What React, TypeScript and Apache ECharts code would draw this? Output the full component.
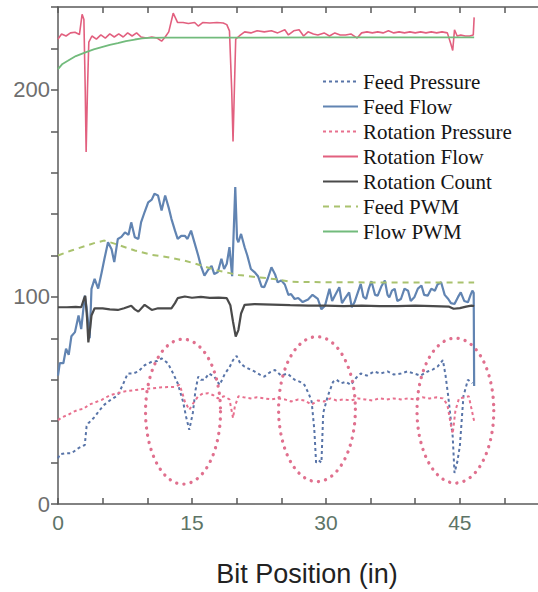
import React, { useEffect, useRef } from "react";
import * as echarts from "echarts";

const seriesNames = [
  "Feed Pressure",
  "Feed Flow",
  "Rotation Pressure",
  "Rotation Flow",
  "Rotation Count",
  "Feed PWM",
  "Flow PWM",
];

const xTickValues = [0, 5, 10, 15, 20, 25, 30, 35, 40, 45, 50];
const xLabelValues = [0, 15, 30, 45];
const yLabelValues = [0, 100, 200];

const feedPressure: number[][] = [
  [0, 22], [0.2, 24], [0.8, 24.5], [1.5, 24.5], [2.3, 27], [3.0, 28.5], [3.2, 37.5], [3.4, 39],
  [4.1, 42], [4.6, 45], [5.2, 48], [5.8, 50], [6.7, 52.5], [7.3, 58], [7.8, 63], [8.4, 63],
  [9.0, 64], [9.7, 67], [10.5, 68.7], [11.1, 69], [11.6, 70.3], [12.3, 68], [12.9, 63], [13.4, 58.3],
  [14.0, 49.5], [14.35, 42], [14.7, 35.8], [15.1, 44], [15.4, 55], [15.7, 61.5], [16.0, 60], [16.4, 60],
  [16.9, 63], [17.5, 61.5], [18.1, 57.5], [18.7, 63], [19.2, 66], [19.6, 69.5], [20.0, 71.5], [20.4, 68],
  [20.9, 66.3], [21.5, 65], [22.0, 64], [22.6, 62.5], [23.1, 61.5], [23.7, 63.5], [24.3, 64.7], [25.0, 62],
  [25.7, 63], [26.5, 60], [27.1, 59], [27.6, 57.5], [28.1, 53], [28.4, 49.5], [28.7, 36], [28.9, 20],
  [29.2, 21], [29.5, 20], [29.7, 44], [30.2, 52], [30.8, 59], [31.2, 60], [31.7, 58.3], [32.2, 59],
  [32.8, 57.5], [33.4, 61], [33.9, 63], [34.6, 62], [35.4, 64], [36.1, 63], [36.9, 64], [37.6, 62.5],
  [38.4, 63], [39.1, 64], [39.9, 63], [40.6, 62], [41.4, 64], [42.0, 65], [42.5, 66.3], [43.1, 69.5],
  [43.4, 62], [43.7, 52], [44.0, 40], [44.2, 32.5], [44.4, 15], [44.7, 20], [45.0, 28], [45.2, 40],
  [45.4, 52], [45.9, 60], [46.4, 58.3],
];

const feedFlow: number[][] = [
  [0, 62], [0.2, 68], [0.6, 68], [0.9, 75], [1.2, 72], [1.5, 81], [1.9, 83], [2.3, 91],
  [2.6, 84.5], [3.0, 100.6], [3.2, 95], [3.4, 86], [3.55, 80], [3.75, 103.9], [4.1, 108.7], [4.5, 104],
  [4.9, 112], [5.2, 118.4], [5.6, 126.4], [6.0, 123], [6.3, 116.8], [6.7, 128], [7.1, 129], [7.5, 131.2],
  [7.9, 130], [8.2, 136], [8.6, 128.8], [9.0, 128], [9.3, 136], [9.7, 141], [10.1, 145.7], [10.5, 147],
  [10.8, 149.8], [11.2, 149], [11.6, 141.7], [12.0, 149], [12.4, 143], [12.7, 137.7], [13.1, 132], [13.4, 128],
  [13.8, 129.5], [14.2, 129.5], [14.5, 128], [14.9, 132], [15.3, 126], [15.7, 120], [16.0, 115], [16.4, 110.3],
  [16.8, 113], [17.2, 115], [17.5, 111], [17.9, 112], [18.3, 118.4], [18.6, 113.5], [18.9, 116], [19.2, 124],
  [19.5, 110], [19.85, 153], [20.05, 128], [20.2, 126.4], [20.5, 130.4], [20.9, 124], [21.2, 120], [21.6, 113.5],
  [22.0, 112], [22.4, 110], [22.8, 105], [23.1, 104.7], [23.5, 109], [23.9, 114.3], [24.3, 111], [24.6, 107],
  [25.0, 108], [25.4, 106], [25.8, 101], [26.1, 101.4], [26.5, 99], [26.9, 99.5], [27.4, 97.5], [28.0, 98.8],
  [28.5, 101], [29.1, 99], [29.5, 94], [29.9, 95.8], [30.4, 103.9], [30.7, 98], [31.0, 100.6], [31.5, 104.7],
  [31.8, 97], [32.1, 99], [32.6, 102.2], [32.9, 95], [33.2, 97.4], [33.9, 106.3], [34.2, 100], [34.5, 99],
  [34.8, 104], [35.1, 107.6], [35.5, 101], [35.8, 100.6], [36.2, 105], [36.6, 107.9], [36.9, 101], [37.1, 99.8],
  [37.4, 103], [37.7, 103.9], [38.0, 98], [38.4, 99], [38.8, 104], [39.2, 103], [39.5, 98], [39.9, 99.8],
  [40.3, 104], [40.7, 105.5], [41.0, 101], [41.4, 100.6], [41.8, 104], [42.2, 103], [42.5, 106], [42.9, 107.1],
  [43.3, 101], [43.7, 99], [44.0, 97], [44.4, 96.6], [44.8, 100], [45.1, 102.2], [45.5, 98], [45.9, 97.4],
  [46.2, 101], [46.4, 103], [46.55, 102], [46.6, 57],
];

const rotationPressure: number[][] = [
  [0, 40.5], [0.5, 42], [1.1, 43], [1.7, 44.5], [2.3, 45.5], [2.9, 46], [3.4, 47.8], [4.1, 49],
  [4.9, 50.3], [5.8, 52.5], [6.7, 53.5], [7.6, 54.5], [8.6, 55], [9.5, 55.5], [10.5, 55.8], [11.4, 56.3],
  [12.3, 56.5], [13.0, 56.5], [13.6, 57.5], [13.9, 54], [14.2, 49.5], [14.7, 45.5], [15.2, 49], [15.7, 52],
  [16.2, 53.3], [16.8, 53.5], [17.4, 52.5], [17.9, 51], [18.6, 52], [19.2, 50.5], [19.4, 46], [19.6, 41.5],
  [19.8, 47], [20.2, 52], [20.8, 51.5], [21.6, 51], [22.3, 51.5], [23.1, 51], [23.9, 50.5], [24.6, 51],
  [25.4, 50.5], [26.1, 49.5], [26.9, 50.5], [27.6, 50], [28.4, 48], [29.1, 50], [29.8, 49.5], [30.5, 51],
  [31.2, 50], [32.0, 50.5], [32.8, 50], [33.6, 51], [34.4, 50.5], [35.2, 50], [36.0, 51], [36.8, 50.5],
  [37.6, 51], [38.4, 50.5], [39.2, 51], [40.0, 50.5], [40.8, 51.5], [41.6, 51], [42.4, 51.5], [43.1, 51],
  [43.6, 48], [44.0, 38], [44.2, 34], [44.5, 45], [44.9, 51], [45.5, 51.5], [46.0, 52], [46.3, 46],
  [46.6, 40],
];

const rotationFlow: number[][] = [
  [0, 224.5], [0.4, 227], [0.9, 226], [1.4, 227.5], [1.9, 227.8], [2.4, 226.7], [2.7, 236.5], [2.9, 234],
  [3.05, 200], [3.15, 170], [3.3, 200], [3.45, 223], [3.8, 226], [4.3, 224.5], [4.8, 226.5], [5.3, 225],
  [5.8, 227], [6.3, 225.5], [6.8, 227], [7.3, 225.5], [7.8, 227.5], [8.3, 226], [8.8, 227.5], [9.3, 225.5],
  [9.9, 225], [10.5, 225.5], [11.1, 225], [11.6, 223.5], [12.0, 225.5], [12.4, 228], [12.9, 237], [13.4, 232.5],
  [14.0, 232.5], [14.6, 232], [15.3, 232.5], [15.7, 230.8], [16.2, 232.5], [17.0, 232.3], [17.8, 232.5], [18.5, 232.3],
  [18.9, 231.5], [19.2, 228.5], [19.45, 200], [19.6, 175], [19.75, 200], [19.9, 224.5], [20.3, 226], [20.9, 228],
  [21.6, 227.5], [22.3, 228.5], [23.1, 228], [23.9, 228.5], [24.6, 227.5], [25.4, 229], [25.8, 226.5], [26.4, 228.5],
  [27.0, 229], [27.5, 226], [28.0, 228], [28.6, 227], [29.1, 226.5], [29.8, 227.5], [30.4, 226], [31.0, 227.5],
  [31.6, 226.5], [32.2, 226.5], [32.8, 227], [33.5, 225], [34.0, 227.5], [34.6, 228], [35.2, 227.5], [35.8, 228],
  [36.4, 227.5], [37.0, 228.5], [37.6, 227.5], [38.2, 228], [38.8, 227.5], [39.4, 228], [40.0, 227.5], [40.6, 228],
  [41.2, 227.5], [41.8, 228], [42.4, 227.5], [43.0, 228], [43.6, 227.5], [44.0, 222], [44.2, 219], [44.4, 229],
  [44.7, 226], [45.1, 226.5], [45.6, 226], [46.1, 226], [46.5, 226.5], [46.6, 235],
];

const rotationCount: number[][] = [
  [0, 95], [1.0, 95], [2.0, 95.2], [2.6, 95], [2.9, 99], [3.05, 100.5], [3.25, 90], [3.4, 78],
  [3.6, 85], [3.75, 91], [4.1, 94.5], [5.0, 94.5], [5.8, 94], [6.7, 93.7], [7.4, 94.5], [8.2, 95.7],
  [8.6, 94], [9.0, 92.9], [9.7, 96.2], [10.5, 93.7], [11.2, 94.5], [12.0, 94.5], [12.7, 94.5], [13.1, 97],
  [13.4, 99.4], [14.2, 100.2], [15.0, 99.6], [16.0, 100], [17.0, 99.5], [18.0, 99.7], [18.9, 99.4], [19.3, 96],
  [19.6, 88], [19.9, 80.9], [20.2, 84], [20.5, 92], [20.9, 96.2], [22.0, 96.5], [24.0, 96.3], [26.0, 96],
  [28.0, 95.8], [30.0, 95.8], [32.0, 95.6], [34.0, 95.8], [36.0, 95.6], [38.0, 95.6], [40.0, 95.8], [42.0, 95.6],
  [43.8, 95.3], [44.3, 94.3], [45.0, 94.6], [45.7, 95.3], [46.3, 95.8], [46.6, 95.6],
];

const feedPwm: number[][] = [
  [0, 120], [1.5, 122.4], [3.0, 124.5], [4.2, 126.2], [5.2, 127.2], [6.5, 125.5], [8.6, 122.4], [10.5, 120.3],
  [12.3, 119.2], [14.2, 117.5], [16.1, 115.1], [17.9, 112.7], [20.2, 110.6], [22.4, 109.5], [24.5, 108.5], [26.1, 107.3],
  [30.0, 107.1], [35.0, 107], [40.0, 107], [46.6, 107],
];

const flowPwm: number[][] = [
  [0, 210], [0.5, 212.5], [1.1, 214], [2.0, 216.3], [3.0, 218], [4.0, 219.5], [4.9, 220.6], [5.8, 221.7],
  [6.7, 222.5], [7.6, 223.5], [8.6, 224.3], [9.4, 224.8], [10.1, 225.1], [12.0, 225.2], [20.0, 225.2], [30.0, 225.3],
  [40.0, 225.3], [46.6, 225.3],
];

// [centre x, centre y, radius x, radius y] of the highlighted dips
const dipEllipses: number[][] = [
  [14.0, 44.6, 4.2, 35],
  [29.0, 45.8, 4.3, 35],
  [44.5, 45.1, 4.3, 35],
];

const seriesData = [feedPressure, feedFlow, rotationPressure, rotationFlow, rotationCount, feedPwm, flowPwm];
const seriesColors = ["#5874a8", "#6184b2", "#e8708e", "#e2607f", "#4a4a4a", "#a9c26e", "#72bb7c"];
const seriesDash: any[] = [[3, 3], "solid", [3, 3], "solid", "solid", [6, 5], "solid"];
const seriesWidth = [2, 2.2, 2, 1.6, 2.2, 2, 1.8];
const seriesZ = [6, 3, 6, 2, 4, 3, 2];

export default function App() {
  const ref = useRef<HTMLDivElement>(null);
  useEffect(() => {
    const chart = echarts.init(ref.current!, null, { renderer: "svg" });
    const lineSeries = seriesNames.map((name, i) => ({
      name,
      type: "line",
      data: seriesData[i],
      symbol: "none",
      showSymbol: false,
      z: seriesZ[i],
      color: seriesColors[i],
      lineStyle: { color: seriesColors[i], width: seriesWidth[i], type: seriesDash[i] },
      emphasis: { disabled: true },
    }));
    const axisLineStyle = { color: "#5a5a5a", width: 1.5 };
    chart.setOption({
      animation: false,
      grid: { left: 58, right: 0, top: 7, bottom: 88 },
      legend: {
        data: seriesNames,
        orient: "vertical",
        left: 317,
        top: 66,
        itemWidth: 35,
        itemHeight: 14,
        itemGap: 4,
        itemStyle: { opacity: 0 },
        textStyle: { fontFamily: "Liberation Serif", fontSize: 21, color: "#151515" },
      },
      xAxis: [
        {
          type: "value",
          min: 0,
          max: 53.75,
          interval: 5,
          position: "bottom",
          name: "Bit Position (in)",
          nameLocation: "middle",
          nameGap: 56,
          nameTextStyle: { fontFamily: "Liberation Sans", fontSize: 27, color: "#222", padding: [0, 0, 0, 18] },
          axisLine: { lineStyle: axisLineStyle },
          axisTick: { inside: true, length: 6, customValues: xTickValues, lineStyle: axisLineStyle },
          axisLabel: {
            customValues: xLabelValues,
            formatter: (v: number) => (xLabelValues.includes(v) ? String(v) : ""),
            fontFamily: "Liberation Sans",
            fontSize: 21,
            color: "#5d7467",
            margin: 8,
          },
          splitLine: { show: false },
        },
        {
          type: "value",
          min: 0,
          max: 53.75,
          interval: 5,
          position: "top",
          axisLine: { lineStyle: axisLineStyle },
          axisTick: { inside: true, length: 6, customValues: xTickValues, lineStyle: axisLineStyle },
          axisLabel: { show: false },
          splitLine: { show: false },
        },
      ],
      yAxis: {
        type: "value",
        min: 0,
        max: 240,
        interval: 20,
        axisLine: { show: true, lineStyle: axisLineStyle },
        axisTick: { show: true, length: 7, lineStyle: axisLineStyle },
        axisLabel: {
          formatter: (v: number) => (yLabelValues.includes(v) ? String(v) : ""),
          fontFamily: "Liberation Sans",
          fontSize: 22,
          color: "#6e6e6e",
          margin: 8,
        },
        splitLine: { show: false },
      },
      series: [
        ...lineSeries,
        {
          type: "custom",
          data: dipEllipses,
          encode: { x: 0, y: 1 },
          clip: false,
          silent: true,
          z: 8,
          renderItem: (params: any, api: any) => {
            const c = api.coord([api.value(0), api.value(1)]);
            const s = api.size([api.value(2), api.value(3)]);
            const pts: number[][] = [];
            const n = 90;
            for (let k = 0; k < n; k++) {
              const a = (k / n) * Math.PI * 2;
              pts.push([c[0] + s[0] * Math.cos(a), c[1] + s[1] * Math.sin(a)]);
            }
            return {
              type: "polygon",
              shape: { points: pts },
              style: { fill: "none", stroke: "#e0708e", lineWidth: 3.3, lineDash: [0.1, 7.2], lineCap: "round" },
            };
          },
        },
      ],
    });
    return () => chart.dispose();
  }, []);
  return <div ref={ref} style={{ position: "absolute", left: 0, top: 0, width: 538, height: 592 }} />;
}
